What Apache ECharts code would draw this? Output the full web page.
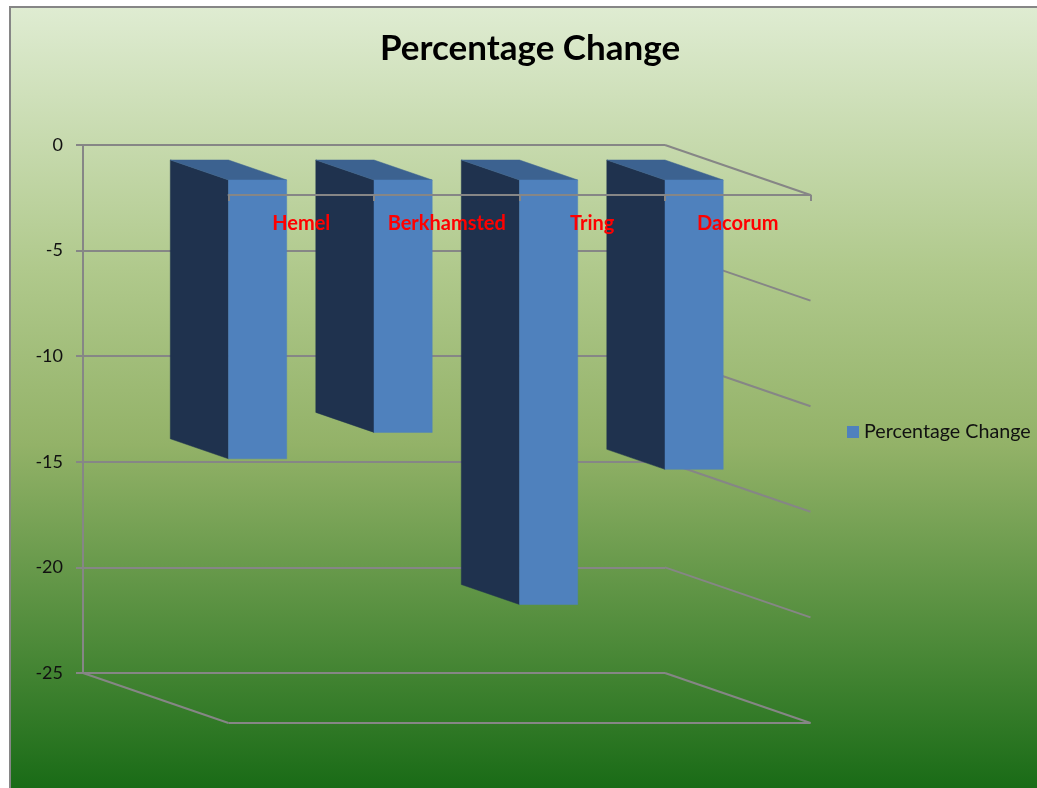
<!DOCTYPE html>
<html>
<head>
<meta charset="utf-8">
<style>html,body{margin:0;padding:0;background:#fff}#c{width:1037px;height:788px}</style>
<script src="https://cdn.jsdelivr.net/npm/echarts@6/dist/echarts.min.js"></script>
</head>
<body>
<div id="c"></div>
<script>
const chartTitle = 'Percentage Change';
const categories = ['Hemel', 'Berkhamsted', 'Tring', 'Dacorum'];
const percentageChange = [-13.2, -11.95, -20.1, -13.7];
const wallTicks = [0, -5, -10, -15, -20, -25];

const DEPTH_X = 145.5, DEPTH_Y = 50, GAP = 0.3, GREY = '#868686';
const line = (x1, y1, x2, y2) => ({
  type: 'line', shape: {x1, y1, x2, y2}, style: {stroke: GREY, lineWidth: 2, fill: null}
});

function renderWall(params, api) {
  const v = api.value(1), last = categories.length - 1;
  const bw = api.size([1, 0])[0];
  const p = api.coord([last, v]);
  const xr = p[0] + bw / 2, y = p[1];
  const children = [line(xr, y, xr + DEPTH_X, y + DEPTH_Y)];
  if (v === wallTicks[wallTicks.length - 1]) {
    const xl = api.coord([0, v])[0] - bw / 2;
    children.push(line(xl, y, xl + DEPTH_X, y + DEPTH_Y));
    children.push(line(xl + DEPTH_X, y + DEPTH_Y, xr + DEPTH_X, y + DEPTH_Y));
  }
  return {type: 'group', children};
}

function renderBar(params, api) {
  const bw = api.size([1, 0])[0];
  const base = api.coord([api.value(0), 0]);
  const end = api.coord([api.value(0), api.value(1)]);
  const w = bw * (1 - 2 * GAP);
  const dx = DEPTH_X * (1 - 2 * GAP), dy = DEPTH_Y * (1 - 2 * GAP);
  const bx = base[0] - w / 2 + DEPTH_X * GAP, by = base[1] + DEPTH_Y * GAP, ey = end[1] + DEPTH_Y * GAP;
  const poly = (points, fill) => ({type: 'polygon', shape: {points}, style: {fill, stroke: fill, lineWidth: 0.5}});
  return {type: 'group', children: [
    poly([[bx, by], [bx + dx, by + dy], [bx + dx, ey + dy], [bx, ey]], '#1f324e'),
    poly([[bx, by], [bx + w, by], [bx + w + dx, by + dy], [bx + dx, by + dy]], '#3c6290'),
    poly([[bx + dx, by + dy], [bx + dx + w, by + dy], [bx + dx + w, ey + dy], [bx + dx, ey + dy]], '#4f81bd')
  ]};
}

const chart = echarts.init(document.getElementById('c'), null, {renderer: 'canvas'});
chart.setOption({
  animation: false,
  backgroundColor: '#ffffff',
  textStyle: {fontFamily: 'Lato'},
  graphic: [{
    type: 'rect', z: -10, silent: true,
    shape: {x: 10, y: 7, width: 1040, height: 795},
    style: {
      stroke: GREY, lineWidth: 2,
      fill: new echarts.graphic.LinearGradient(0, 0, 0, 1, [
        {offset: 0, color: '#dfecd2'},
        {offset: 0.33, color: '#b0c98c'},
        {offset: 0.55, color: '#93b268'},
        {offset: 0.8, color: '#4d8a39'},
        {offset: 1, color: '#146813'}
      ])
    }
  }],
  title: {
    text: chartTitle, left: 525, top: 26, textAlign: 'center',
    textStyle: {fontFamily: 'Lato', fontWeight: 'bold', fontSize: 35, color: '#000'}
  },
  legend: {
    data: [{name: chartTitle, icon: 'rect'}],
    left: 842, top: 417, itemWidth: 12, itemHeight: 12, itemGap: 0,
    selectedMode: false,
    textStyle: {fontFamily: 'Lato', fontSize: 19.7, color: '#111'}
  },
  grid: [
    {left: 83, top: 145, width: 582, height: 528},
    {left: 228.5, top: 195, width: 582, height: 528}
  ],
  xAxis: [
    {gridIndex: 0, type: 'category', data: categories, show: false},
    {
      gridIndex: 1, type: 'category', data: categories, z: 10,
      position: 'top',
      axisLine: {show: true, onZero: false, lineStyle: {color: GREY, width: 2}},
      axisTick: {show: true, inside: true, alignWithLabel: false, length: 6, lineStyle: {color: GREY, width: 2}},
      axisLabel: {show: true, inside: true, margin: 19, interval: 0, color: '#ff0000', fontFamily: 'Lato', fontWeight: 'bold', fontSize: 20}
    }
  ],
  yAxis: [
    {
      gridIndex: 0, type: 'value', min: -25, max: 0, interval: 5,
      axisLine: {show: true, onZero: false, lineStyle: {color: GREY, width: 2}},
      axisTick: {show: true, length: 7, lineStyle: {color: GREY, width: 2}},
      axisLabel: {margin: 20, color: '#111', fontFamily: 'Lato', fontSize: 18},
      splitLine: {show: true, lineStyle: {color: GREY, width: 2}}
    },
    {gridIndex: 1, type: 'value', min: -25, max: 0, interval: 5, show: false, splitLine: {show: false}}
  ],
  series: [
    {
      type: 'custom', xAxisIndex: 0, yAxisIndex: 0, z: 1, silent: true,
      renderItem: renderWall,
      encode: {x: 0, y: 1},
      data: wallTicks.map(v => [categories.length - 1, v])
    },
    {
      name: chartTitle, type: 'custom', xAxisIndex: 0, yAxisIndex: 0, z: 2,
      itemStyle: {color: '#4f81bd'},
      renderItem: renderBar,
      encode: {x: 0, y: 1},
      data: percentageChange.map((v, i) => [i, v])
    }
  ]
});
</script>
</body>
</html>
